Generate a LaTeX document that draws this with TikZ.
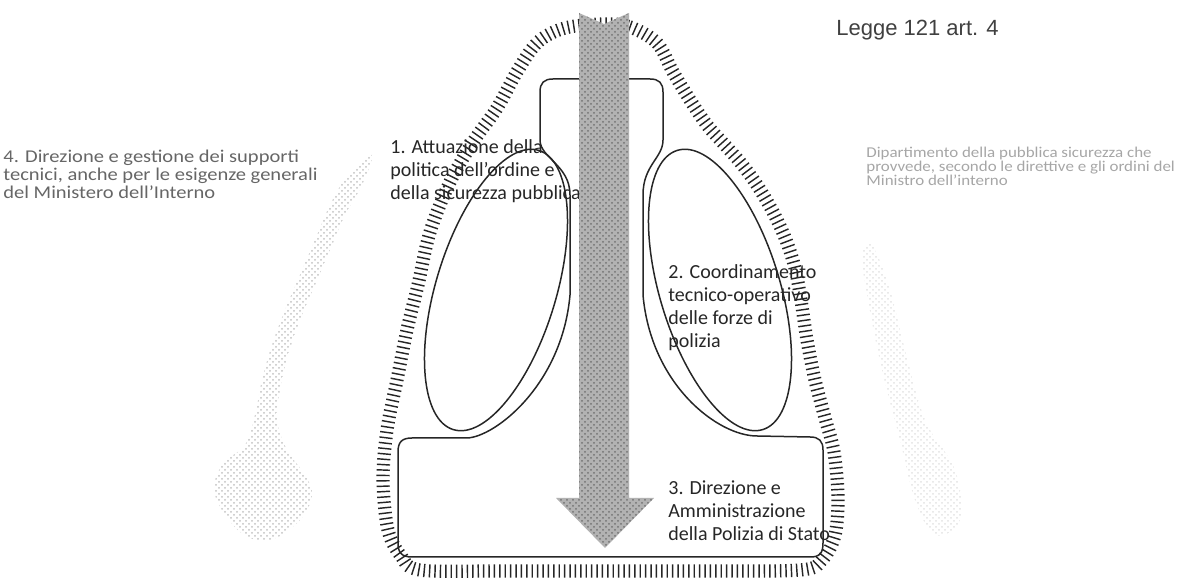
\documentclass[tikz,border=0pt]{standalone}
\usepackage{fontspec}
\setmainfont{Carlito}
\newfontfamily\headfont{Liberation Sans}
\newfontfamily\sidefont{Carlito}[FakeStretch=1.14,Ligatures=TeX]
\newfontfamily\notefont{Carlito}[FakeStretch=1.13,Ligatures=TeX]
\usetikzlibrary{decorations.pathreplacing,patterns}
\begin{document}
\begin{tikzpicture}[x=0.5pt,y=-0.5pt,
  hatch/.style={decorate,decoration={ticks,segment length=2.7pt,amplitude=3.3pt},line width=0.72pt,draw=black!85},
  outline/.style={line width=0.75pt,draw=black!85},
  stipple/.style={pattern=crosshatch dots,pattern color=black!24,draw=none},
  faintstipple/.style={pattern=crosshatch dots,pattern color=black!11,draw=none},
  arrowfill/.style={preaction={fill=black!30},pattern=crosshatch dots,pattern color=black!55,draw=none},
  itemlbl/.style={font=\fontsize{10}{11.5}\selectfont,align=left,anchor=north west,inner sep=0pt,text=black!85},
  sidelbl/.style={font=\sidefont\fontsize{9}{9}\selectfont,align=left,anchor=north west,inner sep=0pt,text=black!60},
  notelbl/.style={font=\notefont\fontsize{7.5}{6.8}\selectfont,align=left,anchor=north west,inner sep=0pt,text=black!35},
  titlelbl/.style={font=\headfont\fontsize{11}{13}\selectfont,anchor=west,inner sep=0pt,text=black!75}]
\useasboundingbox (0,0) rectangle (1179,581);
% faint stippled shapes
\path[stipple] plot[smooth cycle,tension=0.6] coordinates {(372,155) (362,185) (345,215) (330,250) (315,285) (300,320) (288,355) (280,390) (277,420) (287,450) (305,475) (312,495) (300,520) (270,540) (240,532) (215,495) (222,465) (245,445) (255,415) (262,380) (272,345) (285,310) (300,275) (315,240) (330,205) (348,175)};
\path[faintstipple] plot[smooth cycle,tension=0.6] coordinates {(872,245) (890,290) (905,350) (925,420) (955,470) (960,520) (935,535) (915,500) (900,440) (882,370) (868,300) (862,255)};
% hatched outer boundary
\path[hatch] plot[smooth cycle,tension=0.55] coordinates {(604,24) (630,27) (657,43) (673,72) (690,100) (707,125) (723,143) (740,162) (757,185) (773,212) (786,240) (795,268) (801,300) (807,340) (815,380) (825,418) (834,452) (838,497) (835,535) (822,560) (800,570) (700,571) (600,571) (500,571) (420,570) (401,556) (388,530) (383,480) (387,430) (397,380) (407,330) (418,285) (430,232) (450,182) (473,142) (497,108) (518,70) (538,42) (565,28)};
% inner bell shape
\draw[outline] (398,452) -- (398,543) .. controls (398,553) and (402,557) .. (412,557) -- (810,557) .. controls (820,557) and (823,553) .. (823,543) -- (823,450) .. controls (823,441) and (819,437) .. (810,437) -- (757,436) .. controls (718,436) and (651,385) .. (643,295) -- (643,195) .. controls (643,165) and (663,158) .. (663,140) -- (663,92) .. controls (663,83) and (659,79) .. (650,79) -- (553,79) .. controls (544,79) and (540,83) .. (540,92) -- (540,140) .. controls (540,158) and (570,165) .. (570,195) -- (570,295) .. controls (562,385) and (495,437) .. (467,438) -- (412,438) .. controls (402,438) and (398,442) .. (398,452) -- cycle;
% ellipses
\draw[outline,rotate around={73:(496,290)}] (496,290) ellipse [x radius=146, y radius=60];
\draw[outline,rotate around={107:(720,290)}] (720,290) ellipse [x radius=146, y radius=60];
% labels
\node[titlelbl] (title) at (836,30) {Legge 121 art. 4};
\node[sidelbl] (side4) at (3,150) {4. Direzione e gestione dei supporti\\tecnici, anche per le esigenze generali\\del Ministero dell'Interno};
\node[notelbl] (note) at (866,147) {Dipartimento della pubblica sicurezza che\\provvede, secondo le direttive e gli ordini del\\Ministro dell'interno};
\node[itemlbl] (item1) at (390,139) {1. Attuazione della\\politica dell'ordine e\\della sicurezza pubblica};
\node[itemlbl] (item2) at (668,264) {2. Coordinamento\\tecnico-operativo\\delle forze di\\polizia};
\node[itemlbl] (item3) at (668,480) {3. Direzione e\\Amministrazione\\della Polizia di Stato};
% arrow
\path[arrowfill] (579,13) -- (604,24) -- (629,13) -- (629,498) -- (654,498) -- (605,548) -- (556,498) -- (579,498) -- cycle;
\end{tikzpicture}
\end{document}
